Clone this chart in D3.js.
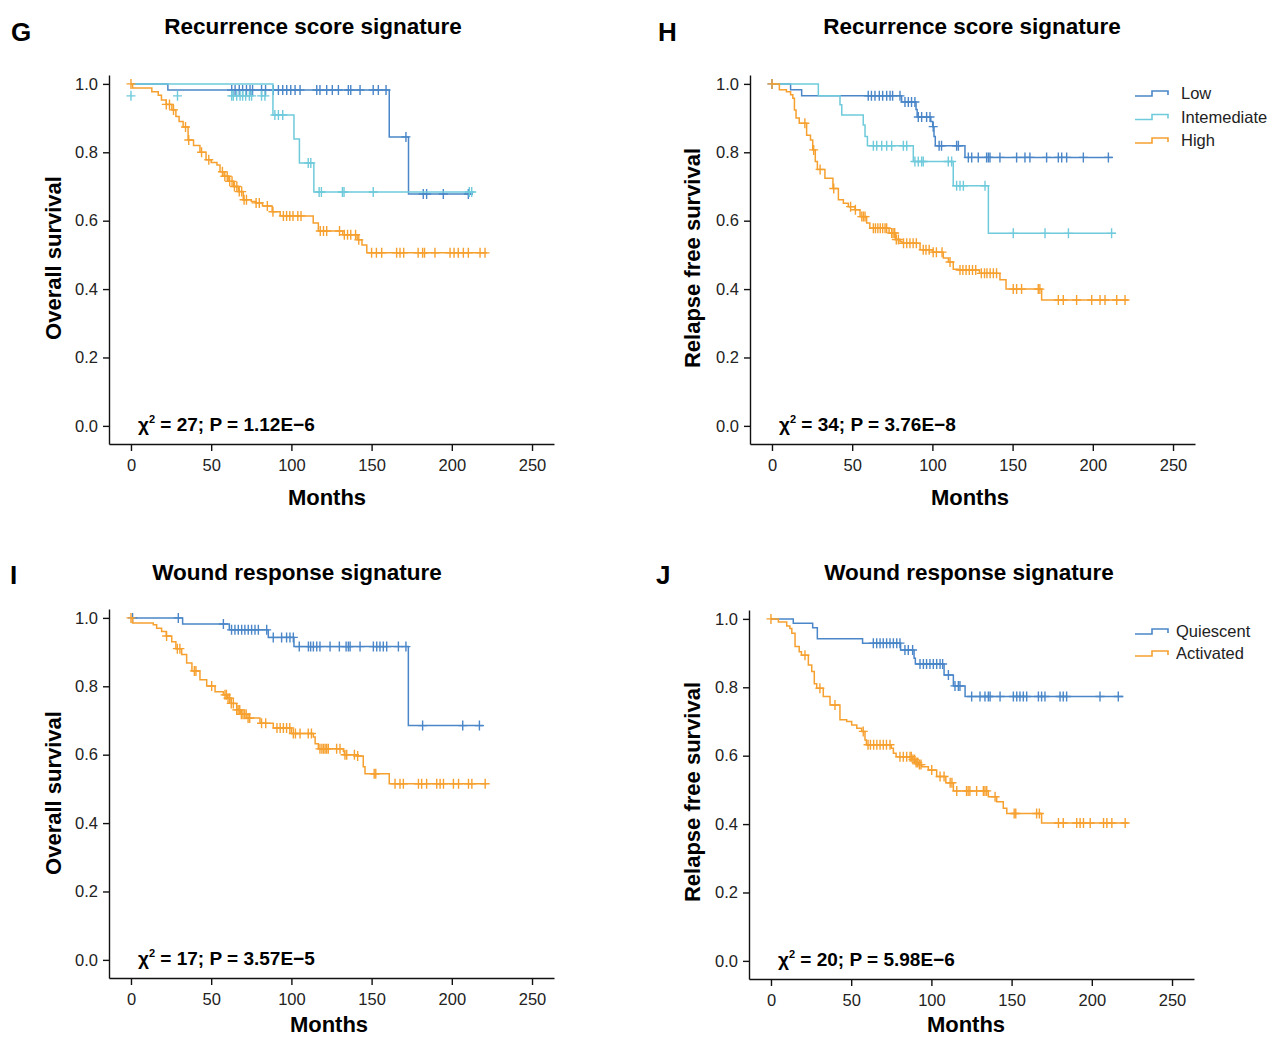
<!DOCTYPE html>
<html>
<head>
<meta charset="utf-8">
<script src="https://cdn.jsdelivr.net/npm/d3@7"></script>
<style>
    body { margin: 0; background: #fff; }
    svg text { font-family: "Liberation Sans", Arial, sans-serif; }
</style>
</head>
<body>
<div id="chart"></div>
<script>

// ----- DATA (times in months, survival fraction after each drop) -----
var yTicks = [0, 0.2, 0.4, 0.6, 0.8, 1.0];
var xTicks = [0, 50, 100, 150, 200, 250];

// G : recurrence score, overall survival
var gLowT = [0, 23, 161, 173];
var gLowS = [1, 0.982, 0.845, 0.678];
var gLowC = [62.8, 64.9, 67.5, 69.6, 72, 74.2, 75.8, 81.4, 83.9, 88.7, 91.9, 94.6, 97.1, 99.6, 102.3, 105.4, 115.8, 117.8, 122, 125.5, 129.3, 135.5, 137, 142.8, 151, 154.2, 159, 171.4, 182.2, 184.3, 194.7, 210.3];
var gIntT = [0, 88.5, 101.6, 105, 114];
var gIntS = [1, 0.909, 0.839, 0.769, 0.684];
var gIntC = [89.7, 91.9, 94.6, 110.5, 112.1, 117.3, 118.7, 131.8, 132.8, 151, 210.9, 212.4];
var gIntC2 = [0, 29, 62.8, 63.8, 65.9, 68, 69.6, 71.5, 73.8, 75.2, 81.4, 83.5]; // drawn a bit under the line
var gHighT = [0, 1, 13, 17, 19, 22, 25.5, 28, 30, 32.5, 35.6, 39, 43, 46.8, 50, 53.6, 55.5, 58, 61, 64, 67, 70, 75, 78, 82, 88, 93, 113.6, 116.8, 132, 141, 144, 147];
var gHighS = [1, 0.988, 0.977, 0.967, 0.953, 0.94, 0.924, 0.905, 0.89, 0.874, 0.836, 0.82, 0.80, 0.778, 0.77, 0.763, 0.743, 0.73, 0.715, 0.70, 0.685, 0.661, 0.656, 0.652, 0.643, 0.626, 0.614, 0.593, 0.57, 0.559, 0.544, 0.529, 0.506];
var gHighC = [0, 22, 24, 26.5, 34, 36, 44, 48.5, 57, 58.5, 60, 61.5, 63, 64.5, 66, 67.5, 69, 70.5, 72, 78, 80, 85, 88.5, 95, 97, 99, 101, 104, 106, 118, 120, 122, 130, 133, 135, 137, 140, 142, 150, 153, 156.3, 165.6, 167.7, 170, 179, 181.8, 183, 189.5, 198.9, 201.4, 204, 207.2, 210.3, 217.6, 220.7];

// H : recurrence score, relapse free survival
var hLowT = [0, 11.6, 18.5, 80.8, 89.8, 90.5, 99, 100.2, 101, 101.8, 120.3];
var hLowS = [1, 0.983, 0.965, 0.947, 0.925, 0.903, 0.89, 0.875, 0.846, 0.819, 0.785];
var hLowC = [0, 60, 62, 64.2, 66.9, 69, 71.5, 73.6, 75.2, 79.8, 82.9, 85, 87, 89.1, 91.2, 93.3, 96.4, 98.5, 100.5, 104.2, 105.7, 115.1, 116.2, 122.4, 124.5, 128.6, 133.8, 134.9, 135.9, 142.1, 152.5, 157.7, 160.8, 171.2, 178.5, 180.6, 183.7, 194.1, 209.7];
var hIntT = [0, 28.9, 42.4, 43.5, 56.9, 58, 59.5, 88.1, 113, 134.9];
var hIntS = [1, 0.965, 0.939, 0.909, 0.88, 0.846, 0.819, 0.773, 0.702, 0.563];
var hIntC = [63.2, 65.3, 68.4, 71.5, 74.6, 81.9, 84, 89.1, 91.2, 93.3, 94.3, 109.9, 112, 115.1, 117.2, 119.3, 132.8, 150.4, 170.2, 184.8, 211.7];
var hHighT = [0, 4.6, 9, 11.6, 13, 14, 15, 17, 21.6, 24, 25.4, 27, 28.3, 33, 38, 41.4, 44.5, 47.6, 51.8, 54.9, 59, 61, 73, 77, 79.8, 81, 92.3, 100, 106.8, 110, 113, 116, 129.3, 142.1, 145.9, 168.1];
var hHighS = [1, 0.983, 0.977, 0.968, 0.958, 0.924, 0.90, 0.885, 0.85, 0.836, 0.807, 0.773, 0.75, 0.724, 0.694, 0.661, 0.651, 0.641, 0.632, 0.612, 0.593, 0.578, 0.564, 0.545, 0.539, 0.534, 0.515, 0.508, 0.491, 0.479, 0.458, 0.456, 0.446, 0.427, 0.40, 0.368];
var hHighC = [0, 20.5, 26, 30, 38.5, 49, 52, 56, 57, 58, 63.2, 64.5, 66, 67.5, 69, 70.5, 71.5, 74.6, 75.5, 76.5, 77.5, 78.8, 82, 84, 86, 88, 90, 94.3, 96, 98, 100.5, 102.5, 106, 111, 117.2, 119, 121, 123, 125, 127, 130.5, 132.5, 134, 136, 138, 140, 150.4, 152.5, 155.6, 166, 167, 178.5, 181.6, 189.9, 199.3, 204.5, 207.6, 214.9, 220.1];

// I : wound response, overall survival
var iQuiT = [0, 32.2, 61.3, 85.6, 101.6, 172.9];
var iQuiS = [1, 0.982, 0.965, 0.943, 0.916, 0.685];
var iQuiC = [1, 29.5, 57.6, 62.7, 64.8, 66.9, 69, 71, 73.1, 75.2, 77.3, 79.4, 84.6, 88.7, 93.9, 97, 99.1, 101.2, 104.9, 110.6, 112, 113.7, 115.8, 117.8, 124.1, 129.9, 134.1, 135.5, 136.6, 142.8, 151.1, 153.2, 155.2, 157.3, 159.4, 166.7, 171.4, 181.8, 206.8, 217.2];
var iActT = [0, 1, 13.9, 16, 19.1, 22, 25.4, 28, 31.6, 34.7, 38, 43, 47.2, 52.4, 57.6, 60, 62.5, 65.9, 68.5, 72.1, 80.4, 88.7, 100, 113.7, 114.8, 116.8, 132.4, 133, 141, 144.8, 145.9, 161];
var iActS = [1, 0.985, 0.98, 0.97, 0.96, 0.947, 0.93, 0.91, 0.893, 0.868, 0.845, 0.819, 0.801, 0.784, 0.775, 0.765, 0.75, 0.731, 0.718, 0.707, 0.692, 0.678, 0.662, 0.652, 0.632, 0.617, 0.61, 0.6, 0.596, 0.565, 0.544, 0.515];
var iActC = [0, 22.2, 28.9, 30.5, 39.5, 40.5, 50.3, 58.6, 59.5, 60.5, 61.5, 62.5, 63.8, 65.9, 66.8, 67.8, 68.8, 69.8, 70.8, 71.8, 73, 74, 81.4, 84, 91, 93, 95, 97, 99, 101.2, 102.5, 105.4, 110.5, 112.5, 117.8, 119, 120, 121, 122, 123, 128.2, 130.3, 133.4, 134.5, 139.3, 141.3, 151.6, 152.6, 164.6, 167.7, 169.8, 179.2, 181.2, 184.3, 190.6, 192.7, 194.8, 201, 204.2, 210.4, 212.5, 220.8];

// J : wound response, relapse free survival
var jQuiT = [0, 13.9, 26, 28.9, 57.1, 80.8, 89.2, 90, 107.9, 113.7, 121];
var jQuiS = [1, 0.987, 0.974, 0.942, 0.929, 0.909, 0.885, 0.868, 0.836, 0.804, 0.773];
var jQuiC = [63.8, 65.9, 68, 70, 72.1, 74.2, 76.3, 78.4, 80.4, 83.5, 85.6, 88.3, 92.9, 95, 97, 99.1, 101.2, 103.3, 105.4, 107, 110.6, 114.7, 116.8, 117.8, 125.1, 130.3, 133.4, 135.5, 136.6, 142.8, 151.1, 153.2, 155.2, 157.3, 159.4, 166.7, 168.7, 170.8, 180.2, 182.2, 184.3, 205.1, 216.5];
var jActT = [0, 4.6, 9.8, 11.8, 13, 15, 17.6, 19, 23.3, 25.4, 27, 28.5, 32.6, 36.8, 43, 47.2, 50.3, 53.5, 56.5, 58.6, 59.5, 75, 76.3, 78, 88, 90, 92, 94, 98.1, 103.3, 109, 113.7, 135.5, 140.7, 144.8, 147, 168.7];
var jActS = [1, 0.991, 0.979, 0.972, 0.958, 0.919, 0.904, 0.894, 0.865, 0.846, 0.81, 0.797, 0.773, 0.748, 0.705, 0.70, 0.69, 0.68, 0.671, 0.646, 0.632, 0.622, 0.607, 0.597, 0.589, 0.58, 0.574, 0.568, 0.558, 0.539, 0.521, 0.497, 0.48, 0.465, 0.446, 0.431, 0.403];
var jActC = [0, 21.2, 30.5, 39.9, 57.5, 60.5, 62, 64, 66, 68, 70, 72, 74.2, 80.4, 82.5, 84.6, 86.7, 87.5, 88.5, 89.5, 90.5, 91.5, 92.5, 93.5, 100.2, 105.4, 107.9, 111.7, 112.8, 115.8, 121.9, 122.9, 124, 128.2, 132.4, 133.4, 134.5, 139.7, 151.6, 152.6, 165.6, 167.3, 179.2, 182.2, 190.6, 192.7, 194.8, 199, 207.3, 209.4, 212.5, 220.8];

var blue = "#4a86c8", cyan = "#6fcadb", orange = "#f6a02f";

var svg = d3.select("#chart").append("svg")
    .attr("width", 1267)
    .attr("height", 1037);

// step value of a curve at time t
function survAt(T, S, t) {
    var v = S[0];
    for (var i = 0; i < T.length; i++) {
        if (T[i] <= t) v = S[i];
    }
    return v;
}

function drawPanel(p) {
    // Scales (padded a little beyond 0..250 and 0..1 like the original)
    var x = d3.scaleLinear().domain([-13.7, 263.7]).range([p.left, p.left + 445]);
    var y = d3.scaleLinear().domain([-0.053, 1.026]).range([p.bottom, p.bottom - 369]);

    var g = svg.append("g");

    // y axis
    var yAxis = d3.axisLeft(y).tickValues(yTicks).tickFormat(d3.format(".1f"))
        .tickSizeInner(6).tickSizeOuter(0).tickPadding(5);
    g.append("g")
        .attr("transform", "translate(" + p.left + ",0)")
        .call(yAxis);

    // x axis
    var xAxis = d3.axisBottom(x).tickValues(xTicks)
        .tickSizeInner(7).tickSizeOuter(0).tickPadding(8);
    g.append("g")
        .attr("transform", "translate(0," + p.bottom + ")")
        .call(xAxis);

    g.selectAll(".domain, .tick line").attr("stroke", "#111").attr("stroke-width", 1.4);
    g.selectAll(".tick text").attr("font-size", 16.5).attr("fill", "#222")
        .attr("font-family", "Liberation Sans, Arial, sans-serif");

    var line = d3.line()
        .x(function(d) { return x(d[0]); })
        .y(function(d) { return y(d[1]); })
        .curve(d3.curveStepAfter);

    p.series.forEach(function(s) {
        var pts = s.t.map(function(t, i) { return [t, s.s[i]]; });
        pts.push([s.end, s.s[s.s.length - 1]]);
        g.append("path")
            .attr("d", line(pts))
            .attr("fill", "none")
            .attr("stroke", s.color)
            .attr("stroke-width", 1.5);

        // censor marks
        var marks = s.c.map(function(t) { return [t, survAt(s.t, s.s, t)]; });
        if (s.c2) {
            s.c2.forEach(function(t) { marks.push([t, s.c2y]); });
        }
        g.selectAll(null)
            .data(marks)
            .enter()
            .append("path")
            .attr("d", function(d) {
                var cx = x(d[0]), cy = y(d[1]);
                return "M" + (cx - 4.5) + "," + cy + "H" + (cx + 4.5) +
                       "M" + cx + "," + (cy - 5) + "V" + (cy + 5);
            })
            .attr("stroke", s.color)
            .attr("stroke-width", 1.4);
    });

    // panel letter
    svg.append("text")
        .attr("x", p.letterX).attr("y", p.letterY)
        .attr("font-size", 26).attr("font-weight", "bold")
        .text(p.letter);

    // title
    svg.append("text")
        .attr("x", p.titleX).attr("y", p.titleY)
        .attr("text-anchor", "middle")
        .attr("font-size", 22.5).attr("font-weight", "bold")
        .text(p.title);

    // y label
    svg.append("text")
        .attr("transform", "translate(" + p.ylabX + "," + p.ylabY + ") rotate(-90)")
        .attr("text-anchor", "middle")
        .attr("font-size", 22).attr("font-weight", "bold")
        .text(p.ylab);

    // x label
    svg.append("text")
        .attr("x", p.xlabX).attr("y", p.xlabY)
        .attr("text-anchor", "middle")
        .attr("font-size", 22).attr("font-weight", "bold")
        .text("Months");

    // stats
    var st = svg.append("text")
        .attr("x", p.left + 29).attr("y", p.bottom - 13)
        .attr("font-size", 19).attr("font-weight", "bold");
    st.append("tspan").text("\u03c7");
    st.append("tspan").attr("font-size", 11).attr("dy", -8).text("2");
    st.append("tspan").attr("dy", 8).text(" = " + p.stat);

    // legend
    if (p.legend) {
        p.legend.forEach(function(l, i) {
            var ly = p.legY + i * p.legStep;
            svg.append("path")
                .attr("d", "M1135," + (ly + 3) + "H1152V" + (ly - 2) + "H1168V" + (ly + 2))
                .attr("fill", "none")
                .attr("stroke", l.color)
                .attr("stroke-width", 1.6);
            svg.append("text")
                .attr("x", p.legTextX).attr("y", ly + 6)
                .attr("font-size", 16.5).attr("fill", "#222")
                .text(l.name);
        });
    }
}

drawPanel({
    left: 109, bottom: 444, letter: "G", letterX: 11, letterY: 41,
    title: "Recurrence score signature", titleX: 313, titleY: 34,
    ylab: "Overall survival", ylabX: 61, ylabY: 258, xlabX: 327, xlabY: 505,
    stat: "27; P = 1.12E\u22126",
    series: [
        { t: gLowT, s: gLowS, c: gLowC, end: 213, color: blue },
        { t: gIntT, s: gIntS, c: gIntC, c2: gIntC2, c2y: 0.965, end: 214, color: cyan },
        { t: gHighT, s: gHighS, c: gHighC, end: 222, color: orange }
    ]
});

drawPanel({
    left: 750, bottom: 444, letter: "H", letterX: 658, letterY: 41,
    title: "Recurrence score signature", titleX: 972, titleY: 34,
    ylab: "Relapse free survival", ylabX: 700, ylabY: 258, xlabX: 970, xlabY: 505,
    stat: "34; P = 3.76E\u22128",
    series: [
        { t: hLowT, s: hLowS, c: hLowC, end: 212.4, color: blue },
        { t: hIntT, s: hIntS, c: hIntC, end: 214.4, color: cyan },
        { t: hHighT, s: hHighS, c: hHighC, end: 222, color: orange }
    ],
    legend: [{ name: "Low", color: blue }, { name: "Intemediate", color: cyan }, { name: "High", color: orange }],
    legY: 93, legStep: 23.5, legTextX: 1181
});

drawPanel({
    left: 109, bottom: 978, letter: "I", letterX: 10, letterY: 584,
    title: "Wound response signature", titleX: 297, titleY: 580,
    ylab: "Overall survival", ylabX: 61, ylabY: 793, xlabX: 329, xlabY: 1032,
    stat: "17; P = 3.57E\u22125",
    series: [
        { t: iQuiT, s: iQuiS, c: iQuiC, end: 219.7, color: blue },
        { t: iActT, s: iActS, c: iActC, end: 221.7, color: orange }
    ]
});

drawPanel({
    left: 749, bottom: 979, letter: "J", letterX: 656, letterY: 584,
    title: "Wound response signature", titleX: 969, titleY: 580,
    ylab: "Relapse free survival", ylabX: 700, ylabY: 792, xlabX: 966, xlabY: 1032,
    stat: "20; P = 5.98E\u22126",
    series: [
        { t: jQuiT, s: jQuiS, c: jQuiC, end: 219.7, color: blue },
        { t: jActT, s: jActS, c: jActC, end: 222.8, color: orange }
    ],
    legend: [{ name: "Quiescent", color: blue }, { name: "Activated", color: orange }],
    legY: 631, legStep: 22, legTextX: 1176
});

</script>
</body>
</html>
